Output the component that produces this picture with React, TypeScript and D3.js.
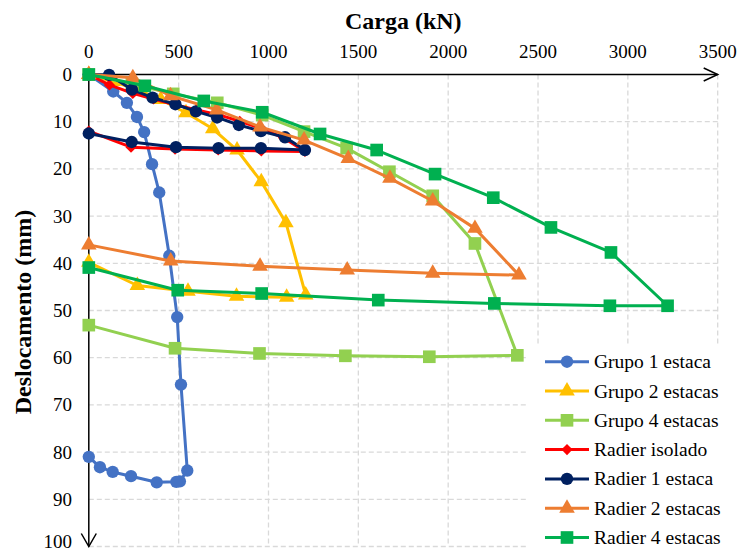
import React from "react";
import * as d3 from "d3";

const xTicks = [0, 500, 1000, 1500, 2000, 2500, 3000, 3500];
const yTicks = [0, 10, 20, 30, 40, 50, 60, 70, 80, 90, 100];

const seriesNames = ["Grupo 1 estaca", "Grupo 2 estacas", "Grupo 4 estacas", "Radier isolado", "Radier 1 estaca", "Radier 2 estacas", "Radier 4 estacas"];
const seriesColors = ["#4472C4", "#FFC000", "#92D050", "#FF0000", "#002060", "#ED7D31", "#00B050"];
const seriesShapes = ["circle", "triangle", "square", "diamond", "circle", "triangle", "square"];

const g1Load = [0, 136, 212, 268, 308, 352, 392, 448, 492, 513, 548, 507, 487, 378, 235, 133, 62, 0];
const g1Disp = [0, 3.6, 6.0, 9.0, 12.2, 19.0, 25.0, 38.4, 51.4, 65.7, 83.9, 86.2, 86.3, 86.4, 85.1, 84.2, 83.2, 81.0];

const g2Load = [0, 135, 270, 400, 541, 690, 825, 960, 1097, 1207, 1101, 822, 552, 270, 0];
const g2Disp = [0, 1.5, 3.2, 5.3, 8.1, 11.5, 16.0, 22.7, 31.4, 46.7, 47.2, 47.0, 45.9, 44.7, 39.8];

const g4Load = [0, 240, 470, 715, 965, 1198, 1435, 1673, 1914, 2149, 2385, 1895, 1428, 950, 480, 0];
const g4Disp = [0, 2.0, 4.1, 6.0, 8.6, 12.1, 15.6, 20.6, 25.7, 35.8, 59.5, 59.8, 59.6, 59.1, 58.0, 53.1];

const riLoad = [0, 115, 245, 360, 480, 600, 720, 840, 960, 1083, 1203, 960, 720, 480, 235, 0];
const riDisp = [0, 2.2, 4.0, 5.2, 6.4, 7.5, 8.5, 9.9, 11.4, 13.4, 16.3, 16.2, 16.0, 15.8, 15.4, 12.0];

const r1Load = [0, 113, 240, 355, 482, 596, 714, 835, 958, 1092, 1203, 958, 722, 485, 239, 0];
const r1Disp = [0, 0.1, 3.2, 4.9, 6.3, 7.8, 9.1, 10.7, 12.0, 13.3, 16.0, 15.6, 15.6, 15.4, 14.3, 12.5];

const r2Load = [0, 245, 455, 712, 953, 1198, 1444, 1676, 1914, 2149, 2394, 1914, 1438, 953, 456, 0];
const r2Disp = [0, 0.7, 4.5, 7.5, 11.1, 13.9, 17.8, 22.0, 26.8, 32.6, 42.5, 42.1, 41.4, 40.6, 39.5, 36.1];

const r4Load = [0, 312, 640, 965, 1287, 1602, 1927, 2251, 2572, 2906, 3221, 2900, 2257, 1611, 962, 495, 0];
const r4Disp = [0, 2.4, 5.6, 8.0, 12.6, 16.0, 21.1, 26.1, 32.4, 37.7, 49.0, 49.0, 48.5, 47.8, 46.4, 45.7, 40.9];

const loads = [g1Load, g2Load, g4Load, riLoad, r1Load, r2Load, r4Load];
const disps = [g1Disp, g2Disp, g4Disp, riDisp, r1Disp, r2Disp, r4Disp];

const FONT = "'Liberation Serif', 'Times New Roman', serif";

function symbolPath(shape: string): string {
  if (shape === "circle") return d3.symbol(d3.symbolCircle, 120)() as string;
  if (shape === "square") return d3.symbol(d3.symbolSquare, 160)() as string;
  if (shape === "triangle") return d3.symbol(d3.symbolTriangle, 105)() as string;
  return d3.symbol(d3.symbolSquare, 62)() as string;
}

export default function App() {
  const x = d3.scaleLinear().domain([0, 3500]).range([88.8, 717.7]);
  const y = d3.scaleLinear().domain([0, 100]).range([74.5, 546.5]);
  const x0 = x(0), x1 = x(3500), y0 = y(0), y1 = y(100);

  const line = d3
    .line<[number, number]>()
    .x((d) => x(d[0]))
    .y((d) => y(d[1]));

  const legendY0 = 361.7;
  const legendDy = 29.3;

  return (
    <svg width={741} height={553} style={{ position: "absolute", left: 0, top: 0, background: "#fff", fontFamily: FONT }}>
      <rect x={0} y={0} width={741} height={553} fill="#fff" />
      {/* gridlines */}
      {xTicks.filter((t) => t > 0).map((t) => (
        <line key={"gx" + t} x1={x(t)} x2={x(t)} y1={y0} y2={y1} stroke="#D9D9D9" strokeWidth={1.3} strokeDasharray="5,3" />
      ))}
      {yTicks.filter((t) => t > 0).map((t) => (
        <line key={"gy" + t} x1={x0} x2={x1} y1={y(t)} y2={y(t)} stroke="#D9D9D9" strokeWidth={1.3} strokeDasharray="5,3" />
      ))}
      {/* axes */}
      <line x1={x0} x2={x1} y1={y0} y2={y0} stroke="#000" strokeWidth={1.5} />
      <polyline points={`${x1 - 14},${y0 - 6.5} ${x1},${y0} ${x1 - 14},${y0 + 6.5}`} fill="none" stroke="#000" strokeWidth={1.5} />
      <line x1={x0} x2={x0} y1={y0} y2={y1} stroke="#000" strokeWidth={1.5} />
      <polyline points={`${x0 - 7.5},${y1 - 13} ${x0},${y1} ${x0 + 7.5},${y1 - 13}`} fill="none" stroke="#000" strokeWidth={1.5} />
      {/* tick labels */}
      {xTicks.map((t) => (
        <text key={"tx" + t} x={x(t)} y={58} textAnchor="middle" fontSize={19} fill="#000">
          {t}
        </text>
      ))}
      {yTicks.map((t) => (
        <text key={"ty" + t} x={72} y={Math.min(y(t) + 6.5, 548)} textAnchor="end" fontSize={19} fill="#000">
          {t}
        </text>
      ))}
      {/* titles */}
      <text x={(x0 + x1) / 2} y={29} textAnchor="middle" fontSize={24} fontWeight="bold" fill="#000">
        Carga (kN)
      </text>
      <text transform={`translate(31,312) rotate(-90)`} textAnchor="middle" fontSize={24} fontWeight="bold" fill="#000">
        Deslocamento (mm)
      </text>
      {/* series */}
      {seriesNames.map((name, i) => {
        const pts: [number, number][] = loads[i].map((l, j) => [l, disps[i][j]]);
        const sp = symbolPath(seriesShapes[i]);
        const rot = seriesShapes[i] === "diamond" ? " rotate(45)" : "";
        return (
          <g key={name}>
            <path d={line(pts) as string} fill="none" stroke={seriesColors[i]} strokeWidth={3} strokeLinejoin="round" />
            {pts.map((p, j) => (
              <path key={j} d={sp} transform={`translate(${x(p[0])},${y(p[1])})${rot}`} fill={seriesColors[i]} />
            ))}
          </g>
        );
      })}
      {/* legend */}
      <rect x={528} y={345} width={213} height={208} fill="#fff" />
      {seriesNames.map((name, i) => {
        const ly = legendY0 + i * legendDy;
        const sp = symbolPath(seriesShapes[i]);
        const rot = seriesShapes[i] === "diamond" ? " rotate(45)" : "";
        return (
          <g key={"lg" + name}>
            <line x1={545} x2={589} y1={ly} y2={ly} stroke={seriesColors[i]} strokeWidth={3} />
            <path d={sp} transform={`translate(567,${ly})${rot}`} fill={seriesColors[i]} />
            <text x={594} y={ly + 6.5} fontSize={19.5} fill="#000">
              {name}
            </text>
          </g>
        );
      })}
    </svg>
  );
}
